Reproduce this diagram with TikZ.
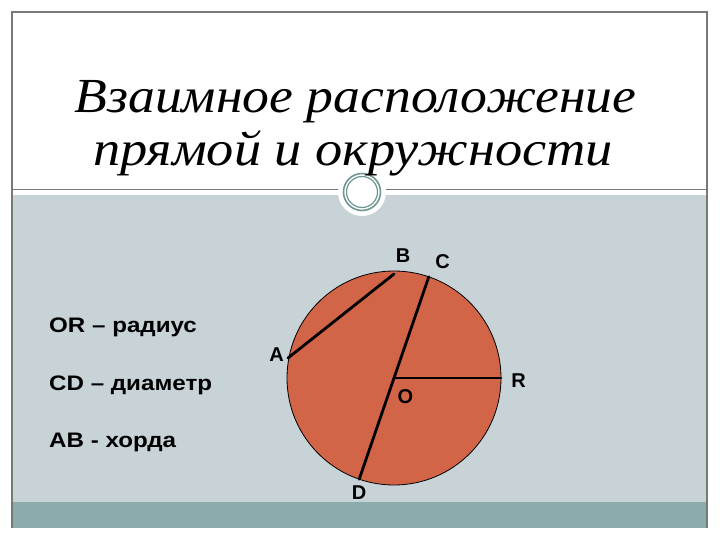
\documentclass[tikz,border=0pt]{standalone}
\usepackage{fontspec}
\setmainfont{Liberation Serif}
\newfontfamily\arialfont{Liberation Sans}
\definecolor{slidegrey}{RGB}{200,211,216}
\definecolor{barteal}{RGB}{138,172,170}
\definecolor{framegrey}{RGB}{120,120,120}
\definecolor{ringteal}{RGB}{112,150,148}
\definecolor{discfill}{RGB}{210,101,72}
\newcommand{\widen}[2]{\scalebox{#1}[1]{#2}}
\tikzset{
  lbl/.style={font=\arialfont\bfseries\fontsize{20}{23}\selectfont, inner sep=0pt},
  item/.style={font=\arialfont\bfseries\fontsize{21}{24}\selectfont, inner sep=0pt, anchor=base west},
  titleline/.style={font=\itshape\fontsize{49}{54}\selectfont, anchor=base},
  seg/.style={line width=2.8pt, line cap=round},
}
\begin{document}
\begin{tikzpicture}[x=1pt,y=1pt,yscale=-1,xscale=1]
\useasboundingbox (0,0) rectangle (720,540);
%Shape: Background
\fill[white] (0,0) rectangle (720,540);
%Shape: Rectangle [grey body]
\fill[slidegrey] (12,195) rectangle (707,502);
%Shape: Rectangle [bottom bar]
\fill[barteal] (12,502) rectangle (707,528);
%Shape: Frame
\draw[framegrey, line width=1.5pt] (12,528) -- (12,12) -- (707,12) -- (707,528);
%Shape: Line [divider]
\draw[framegrey, line width=1.2pt] (12,189.5) -- (707,189.5);
%Shape: Ring
\fill[white] (362,192) circle (24);
\draw[ringteal, line width=1.6pt] (362,192) circle (18.5);
\draw[ringteal, line width=1.2pt] (362,192) circle (15.5);
%Title
\node[titleline] (title1) at (355.5,112.5) {\widen{1.095}{Взаимное расположение}};
\node[titleline] (title2) at (353,166) {\widen{1.11}{прямой и окружности}};
%Left list
\node[item] (radius) at (49,332) {\widen{1.15}{OR – радиус}};
\node[item] (diam) at (49,390.5) {\widen{1.15}{CD – диаметр}};
\node[item] (chord) at (49,447.5) {\widen{1.15}{AB - хорда}};
%Shape: Circle
\coordinate (O) at (394,378);
\draw[black, line width=0.8pt, fill=discfill] (O) circle (107);
\coordinate (A) at (288,358);
\coordinate (B) at (394,274);
\coordinate (C) at (428.8,276.8);
\coordinate (D) at (359.2,479.2);
\coordinate (R) at (501,378);
\draw[seg] (A) -- (B);
\draw[seg] (C) -- (D);
\draw[seg] (O) -- (R);
%Point labels
\node[lbl] (labA) at (276.5,355) {A};
\node[lbl] (labB) at (403,256) {B};
\node[lbl] (labC) at (442.5,262) {C};
\node[lbl] (labR) at (518.5,381) {R};
\node[lbl] (labO) at (405.5,397) {O};
\node[lbl] (labD) at (359,493) {D};
\end{tikzpicture}
\end{document}
